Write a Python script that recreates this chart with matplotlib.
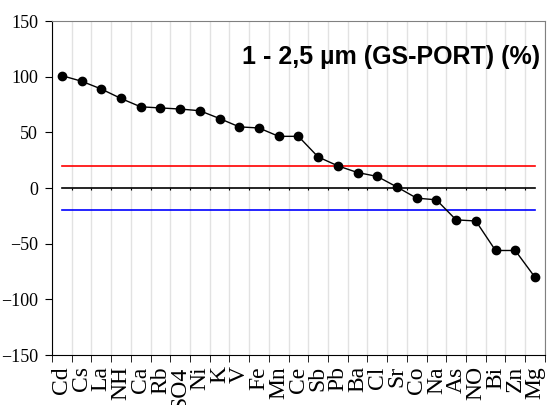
import matplotlib
matplotlib.use("Agg")
import matplotlib.pyplot as plt
import numpy as np

# === Data ===
elements = ["Cd", "Cs", "La", "NH", "Ca", "Rb", "SO4", "Ni", "K", "V", "Fe", "Mn", "Ce",
            "Sb", "Pb", "Ba", "Cl", "Sr", "Co", "Na", "As", "NO", "Bi", "Zn", "Mg"]
diff_pct = [101, 96, 89, 80.5, 73, 72, 71, 69.5, 62.5, 55, 54, 46.5, 46.5,
            28, 20, 14, 10.5, 1, -9, -10.5, -28.5, -29.5, -56, -56, -80]
upper_limit = 20
lower_limit = -20
title = "1 - 2,5 µm (GS-PORT) (%)"

x = np.arange(len(elements))

fig = plt.figure(figsize=(5.47, 4.05), dpi=100)
ax = fig.add_axes([0.095, 0.123, 0.901, 0.825])

# reference lines
ax.plot([x[0], x[-1]], [upper_limit, upper_limit], color="red", lw=1.2)
ax.plot([x[0], x[-1]], [0, 0], color="black", lw=1.2)
ax.plot([x[0], x[-1]], [lower_limit, lower_limit], color="blue", lw=1.2)
# small ticks hanging under the zero line
ax.vlines(np.arange(0.5, len(elements) - 1), -1.8, 0, color="black", lw=0.8)

# series
ax.plot(x, diff_pct, color="black", lw=1, marker="o", markersize=6)

ax.set_xlim(-0.5, len(elements) - 0.5)
ax.set_ylim(-150, 150)
ax.set_yticks(np.arange(-150, 151, 50))

# labels in the middle, ticks + grid on the boundaries
ax.set_xticks(x)
ax.set_xticklabels(elements, rotation=90, family="Liberation Serif", fontsize=17)
ax.set_xticks(np.arange(-0.5, len(elements)), minor=True)
ax.tick_params(axis="x", which="major", length=0, pad=8)
ax.tick_params(axis="x", which="minor", length=5, direction="out")
ax.tick_params(axis="y", length=5, direction="out", labelsize=13, pad=5)
for lab in ax.get_yticklabels():
    lab.set_family("Liberation Serif")
ax.grid(axis="x", which="minor", color="#e2e2e2", lw=1)

for s in ["top", "right"]:
    ax.spines[s].set_color("#808080")
for s in ["left", "bottom"]:
    ax.spines[s].set_color("black")

ax.text(0.99, 0.892, title, transform=ax.transAxes, ha="right", va="center",
        family="Liberation Sans", fontweight="bold", fontsize=18)

fig.savefig("out.png", dpi=100)
